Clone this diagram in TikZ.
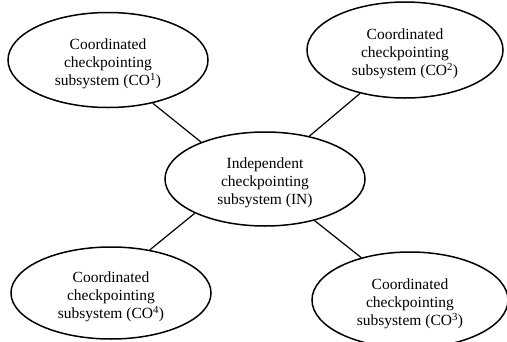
\documentclass[tikz,border=0pt]{standalone}
\usepackage{fontspec}
\setmainfont{Liberation Serif}
\usetikzlibrary{shapes.geometric}
\newcommand{\lowtxt}[1]{\raisebox{-4pt}[\height][\depth]{\begin{tabular}{@{}c@{}}#1\end{tabular}}}
\begin{document}
\begin{tikzpicture}[x=1pt,y=-1pt,
  sub/.style={ellipse,draw,line width=1.5pt,inner sep=0pt,
    font=\fontsize{15.5}{18}\selectfont},
  link/.style={line width=1.2pt}]
\useasboundingbox (0,0) rectangle (507,341);
\node[sub,minimum width=200,minimum height=95] (co1) at (108,60)
  {\lowtxt{Coordinated\\checkpointing\\subsystem (CO\textsuperscript{1})}};
\node[sub,minimum width=196,minimum height=96] (co2) at (405,50)
  {\lowtxt{Coordinated\\checkpointing\\subsystem (CO\textsuperscript{2})}};
\node[sub,minimum width=200,minimum height=94] (in) at (265,179)
  {\lowtxt{Independent\\checkpointing\\subsystem (IN)}};
\node[sub,minimum width=200,minimum height=92] (co4) at (111,293)
  {\lowtxt{Coordinated\\checkpointing\\subsystem (CO\textsuperscript{4})}};
\node[sub,minimum width=196,minimum height=96] (co3) at (410,300)
  {\lowtxt{Coordinated\\checkpointing\\subsystem (CO\textsuperscript{3})}};
\draw[link] (co1.-44) -- (in.150);
\draw[link] (co2.224) -- (in.44);
\draw[link] (co4.48) -- (in.206);
\draw[link] (co3.139) -- (in.-40);
\end{tikzpicture}
\end{document}
